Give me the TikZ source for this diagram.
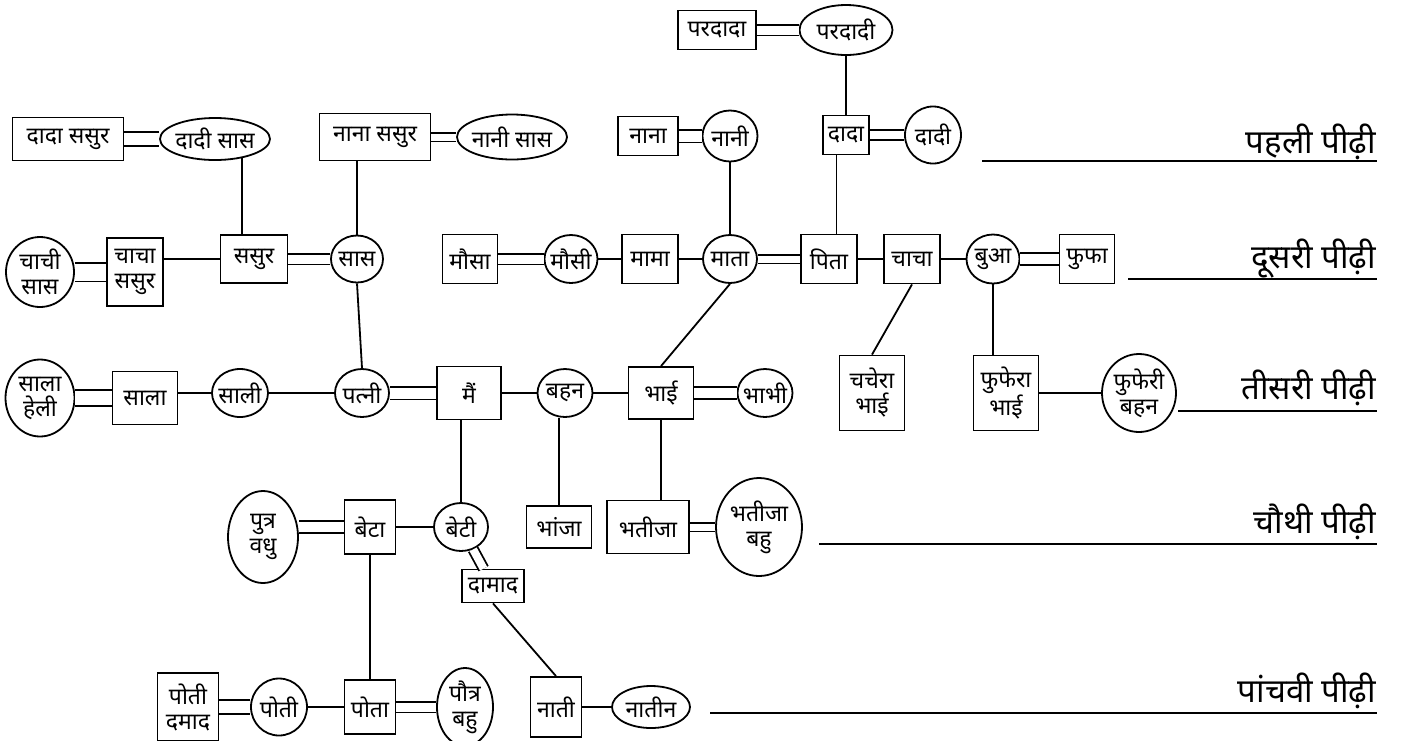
\documentclass[tikz,border=0pt]{standalone}
\usepackage{fontspec}
\newfontfamily\dev[Script=Devanagari]{Noto Sans}
\usetikzlibrary{shapes.geometric,calc}
\newcommand{\naam}[1]{\makebox[0pt]{#1}}
\tikzset{
  male/.style={draw, rectangle, inner sep=0pt, align=center, font=\dev\fontsize{23}{25}\selectfont},
  female/.style={draw, ellipse, inner sep=0pt, align=center, font=\dev\fontsize{23}{25}\selectfont},
  married/.style={double, double distance=#1},
  married/.default=9pt,
  pidhi/.style={anchor=base east, inner sep=0pt, font=\dev\fontsize{33}{36}\selectfont}
}

\begin{document}
\begin{tikzpicture}[x = 1pt, y = -1pt, line width = 1.8pt]
            \useasboundingbox(0,0)rectangle(1408,740);
            \path[clip](0,0)rectangle(1408,740);
            % great grand parents
            \node[male, minimum width=78pt, minimum height=39pt](pardada)at(717,30){परदादा};
            \node[female, minimum width=93pt, minimum height=50pt](pardadi)at(846,30){\naam{परदादी}};
            % first generation
            \node[male, minimum width=111pt, minimum height=43pt](dadasasur)at(68,139){दादा ससुर};
            \node[female, minimum width=110pt, minimum height=42pt](dadisaas)at(215,139){\naam{दादी सास}};
            \node[male, minimum width=111pt, minimum height=47pt](nanasasur)at(375,137){नाना ससुर};
            \node[female, minimum width=110pt, minimum height=45pt](nanisaas)at(512,137){\naam{नानी सास}};
            \node[male, minimum width=60pt, minimum height=39pt](nana)at(648,136){नाना};
            \node[female, minimum width=55pt, minimum height=51pt](nani)at(730,136){\naam{नानी}};
            \node[male, minimum width=46pt, minimum height=39pt](dada)at(846,135){दादा};
            \node[female, minimum width=56pt, minimum height=57pt](dadi)at(933,135){\naam{दादी}};
            % second generation
            \node[female, minimum width=68pt, minimum height=70pt](chachisaas)at(40,272){\naam{चाची}\\\naam{सास}};
            \node[male, minimum width=56pt, minimum height=68pt](chachasasur)at(135,272){चाचा\\ससुर};
            \node[male, minimum width=67pt, minimum height=48pt](sasur)at(254,259){ससुर};
            \node[female, minimum width=52pt, minimum height=47pt](saas)at(357,259){\naam{सास}};
            \node[male, minimum width=55pt, minimum height=49pt](mausa)at(470,259){मौसा};
            \node[female, minimum width=53pt, minimum height=48pt](mausi)at(571,259){\naam{मौसी}};
            \node[male, minimum width=56pt, minimum height=49pt](mama)at(650,259){मामा};
            \node[female, minimum width=54pt, minimum height=48pt](mata)at(730,259){\naam{माता}};
            \node[male, minimum width=56pt, minimum height=49pt](pita)at(829,259){पिता};
            \node[male, minimum width=56pt, minimum height=49pt](chacha)at(912,259){चाचा};
            \node[female, minimum width=53pt, minimum height=49pt](bua)at(993,259){\naam{बुआ}};
            \node[male, minimum width=55pt, minimum height=49pt](phupha)at(1087,259){फुफा};
            % third generation
            \node[female, minimum width=69pt, minimum height=77pt](salaheli)at(40,398){\naam{साला}\\\naam{हेली}};
            \node[male, minimum width=65pt, minimum height=53pt](sala)at(145,398){साला};
            \node[female, minimum width=56pt, minimum height=48pt](sali)at(240,393){\naam{साली}};
            \node[female, minimum width=54pt, minimum height=48pt](patni)at(362,393){\naam{पत्नी}};
            \node[male, minimum width=64pt, minimum height=53pt](main)at(469,393){मैं};
            \node[female, minimum width=55pt, minimum height=48pt](bahan)at(565,393){\naam{बहन}};
            \node[male, minimum width=65pt, minimum height=52pt](bhai)at(661,393){भाई};
            \node[female, minimum width=55pt, minimum height=48pt](bhabhi)at(765,393){\naam{भाभी}};
            \node[male, minimum width=65pt, minimum height=75pt](chachera)at(872,393){चचेरा\\भाई};
            \node[male, minimum width=65pt, minimum height=75pt](phuphera)at(1006,393){फुफेरा\\भाई};
            \node[female, minimum width=74pt, minimum height=78pt](phupheri)at(1139,393){\naam{फुफेरी}\\\naam{बहन}};
            % fourth generation
            \node[female, minimum width=70pt, minimum height=92pt](putravadhu)at(263,537){\naam{पुत्र}\\\naam{वधु}};
            \node[male, minimum width=51pt, minimum height=54pt](beta)at(370,527){बेटा};
            \node[female, minimum width=54pt, minimum height=48pt](beti)at(461,527){\naam{बेटी}};
            \node[male, minimum width=65pt, minimum height=42pt](bhanja)at(559,527){भांजा};
            \node[male, minimum width=82pt, minimum height=53pt](bhatija)at(648,527){भतीजा};
            \node[female, minimum width=86pt, minimum height=98pt](bhatijabahu)at(759,527){\naam{भतीजा}\\\naam{बहु}};
            \node[male, minimum width=62pt, minimum height=33pt](damad)at(493,586){दामाद};
            % fifth generation
            \node[male, minimum width=61pt, minimum height=68pt](potidamad)at(188,707){पोती\\दमाद};
            \node[female, minimum width=56pt, minimum height=57pt](poti)at(279,707){\naam{पोती}};
            \node[male, minimum width=51pt, minimum height=54pt](pota)at(370,707){पोता};
            \node[female, minimum width=56pt, minimum height=78pt](pautrabahu)at(465,707){\naam{पौत्र}\\\naam{बहु}};
            \node[male, minimum width=51pt, minimum height=60pt](nati)at(556,707){नाती};
            \node[female, minimum width=78pt, minimum height=42pt](natin)at(651,707){\naam{नातीन}};
            % generation labels
            \node[pidhi](g1)at(1377,153){पहली पीढ़ी};
            \node[pidhi](g2)at(1377,268){दूसरी पीढ़ी};
            \node[pidhi](g3)at(1377,399){तीसरी पीढ़ी};
            \node[pidhi](g4)at(1377,533){चौथी पीढ़ी};
            \node[pidhi](g5)at(1377,702){पांचवी पीढ़ी};
            \coordinate(u1)at(982,161);
            \coordinate(u2)at(1128,279);
            \coordinate(u3)at(1178,411);
            \coordinate(u4)at(819,544);
            \coordinate(u5)at(710,713);
            \path[draw](u1)to(u1-|g1.east);
            \path[draw](u2)to(u2-|g2.east);
            \path[draw](u3)to(u3-|g3.east);
            \path[draw](u4)to(u4-|g4.east);
            \path[draw](u5)to(u5-|g5.east);
            % couples
            \path[draw, married](pardada)to(pardadi);
            \path[draw, married=12pt](dadasasur)to(dadisaas);
            \path[draw, married=7pt](nanasasur)to(nanisaas);
            \path[draw, married=11pt](nana)to(nani);
            \path[draw, married=8pt](dada)to(dadi);
            \path[draw, married=17pt](chachisaas)to(chachasasur);
            \path[draw, married](sasur)to(saas);
            \path[draw, married](mausa)to(mausi);
            \path[draw, married=7pt](mata)to(pita);
            \path[draw, married=10pt](bua)to(phupha);
            \path[draw, married=14pt](salaheli)to(sala);
            \path[draw, married=11pt](patni)to(main);
            \path[draw, married=10pt](bhai)to(bhabhi);
            \path[draw, married=10pt](beta.west)to(beta.west-|putravadhu.east);
            \path[draw, married=7pt](bhatija)to(bhatijabahu);
            \path[draw, married=8pt](beti)to(damad);
            \path[draw, married=12pt](potidamad)to(poti);
            \path[draw, married](pota)to(pautrabahu);
            % brothers and sisters
            \path[draw](sasur.west)to(sasur.west-|chachasasur.east);
            \path[draw](mausi)to(mama);
            \path[draw](mama)to(mata);
            \path[draw](pita)to(chacha);
            \path[draw](chacha)to(bua);
            \path[draw](sali.west)to(sali.west-|sala.east);
            \path[draw](sali)to(patni);
            \path[draw](main)to(bahan);
            \path[draw](bahan)to(bhai);
            \path[draw](phuphera)to(phupheri);
            \path[draw](beta)to(beti);
            \path[draw](poti)to(pota);
            \path[draw](nati)to(natin);
            % parents to children
            \coordinate(d1)at($(dada.south west)!0.3!(dada.south east)$);
            \path[draw](pardadi)to(dada);
            \path[draw](d1)to(d1|-pita.north);
            \path[draw](dadisaas.-35)to(dadisaas.-35|-sasur.north);
            \path[draw](saas.north)to(saas.north|-nanasasur.south);
            \path[draw](nani)to(mata);
            \path[draw](saas.south)to(patni.north);
            \path[draw](mata.south)to(bhai.north);
            \path[draw](chacha.south)to(chachera.north);
            \path[draw](bua.south)to(bua.south|-phuphera.north);
            \path[draw](beti.north)to(beti.north|-main.south);
            \path[draw](bhanja.north)to(bhanja.north|-bahan.south);
            \path[draw](bhai.south)to(bhai.south|-bhatija.north);
            \path[draw](beta)to(pota);
            \path[draw](damad.south)to(nati.north);
        \end{tikzpicture}
\end{document}
